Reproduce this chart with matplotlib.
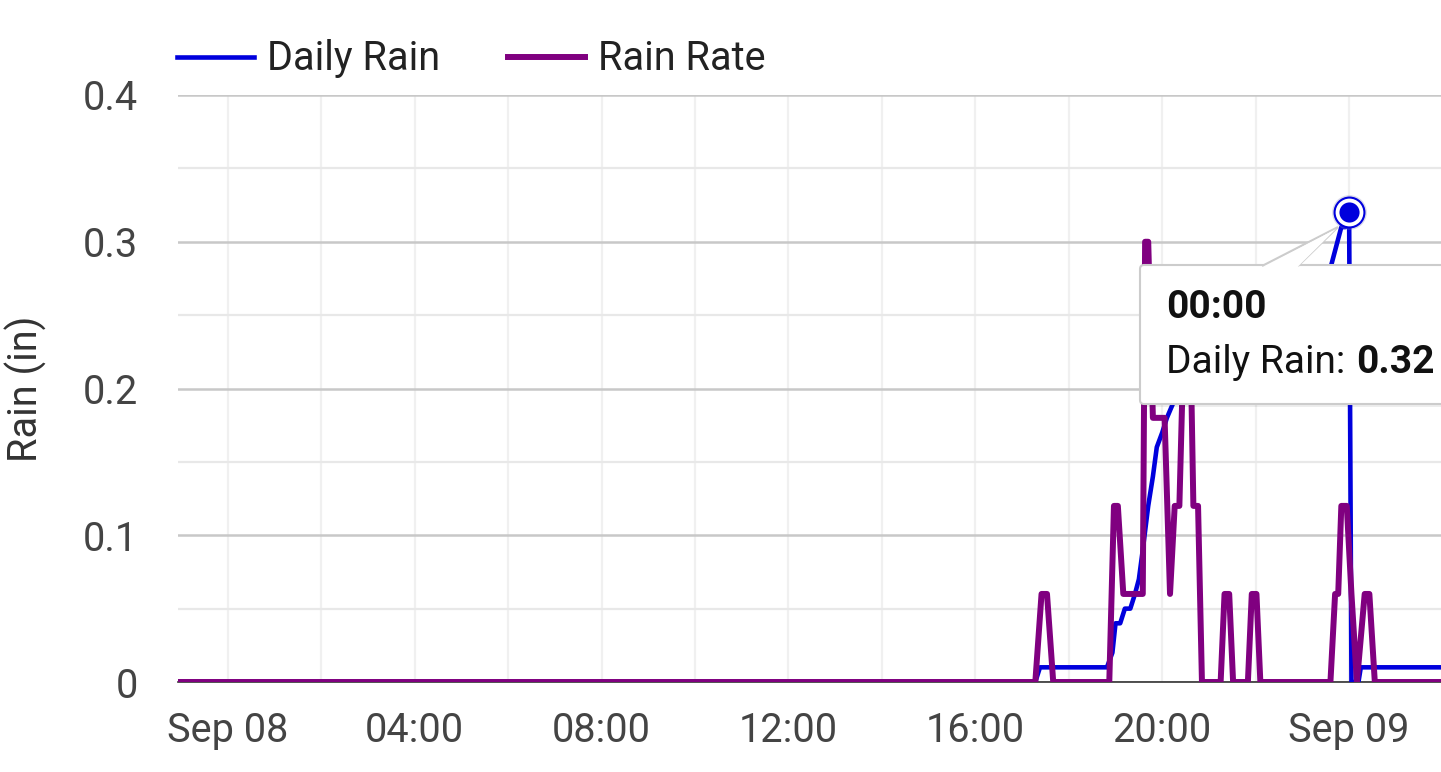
import matplotlib
matplotlib.use('Agg')
import matplotlib.pyplot as plt
import matplotlib.dates as mdates
import matplotlib.transforms as mtransforms
from matplotlib.patches import Polygon, FancyBboxPatch
from matplotlib.ticker import FixedLocator, FixedFormatter, MultipleLocator
import pandas as pd

plt.rcParams['font.family'] = ['Roboto', 'DejaVu Sans']

# daily rain (in)
daily_rain_times = [
    "2024-09-07 22:50", "2024-09-08 17:17", "2024-09-08 17:23", "2024-09-08 18:49",
    "2024-09-08 18:56", "2024-09-08 19:00", "2024-09-08 19:06", "2024-09-08 19:12",
    "2024-09-08 19:19", "2024-09-08 19:25", "2024-09-08 19:30", "2024-09-08 19:35",
    "2024-09-08 19:42", "2024-09-08 19:48", "2024-09-08 19:53", "2024-09-08 20:00",
    "2024-09-08 20:06", "2024-09-08 20:14", "2024-09-08 20:20", "2024-09-08 20:25",
    "2024-09-08 20:30", "2024-09-08 20:36", "2024-09-08 20:42", "2024-09-08 20:50",
    "2024-09-08 21:25", "2024-09-08 21:30", "2024-09-08 23:35", "2024-09-08 23:40",
    "2024-09-08 23:45", "2024-09-08 23:50", "2024-09-08 23:55", "2024-09-09 00:00",
    "2024-09-09 00:03", "2024-09-09 00:12", "2024-09-09 00:15", "2024-09-09 02:10",
]
daily_rain_values = [
    0, 0, 0.01, 0.01,
    0.02, 0.04, 0.04, 0.05,
    0.05, 0.06, 0.07, 0.09,
    0.12, 0.14, 0.16, 0.17,
    0.18, 0.19, 0.20, 0.21,
    0.23, 0.25, 0.26, 0.27,
    0.27, 0.28, 0.28, 0.29,
    0.30, 0.31, 0.31, 0.32,
    0, 0, 0.01, 0.01,
]

# rain rate (in/hr)
rain_rate_times = [
    "2024-09-07 22:50", "2024-09-08 17:17", "2024-09-08 17:25", "2024-09-08 17:32",
    "2024-09-08 17:40", "2024-09-08 18:52", "2024-09-08 18:58", "2024-09-08 19:03",
    "2024-09-08 19:10", "2024-09-08 19:35", "2024-09-08 19:38", "2024-09-08 19:42",
    "2024-09-08 19:48", "2024-09-08 20:03", "2024-09-08 20:10", "2024-09-08 20:16",
    "2024-09-08 20:22", "2024-09-08 20:28", "2024-09-08 20:36", "2024-09-08 20:40",
    "2024-09-08 20:46", "2024-09-08 20:51", "2024-09-08 21:15", "2024-09-08 21:20",
    "2024-09-08 21:26", "2024-09-08 21:31", "2024-09-08 21:50", "2024-09-08 21:55",
    "2024-09-08 22:01", "2024-09-08 22:06", "2024-09-08 23:36", "2024-09-08 23:42",
    "2024-09-08 23:46", "2024-09-08 23:50", "2024-09-08 23:57", "2024-09-09 00:03",
    "2024-09-09 00:10", "2024-09-09 00:20", "2024-09-09 00:26", "2024-09-09 00:33",
    "2024-09-09 02:10",
]
rain_rate_values = [
    0, 0, 0.06, 0.06,
    0, 0, 0.12, 0.12,
    0.06, 0.06, 0.30, 0.30,
    0.18, 0.18, 0.06, 0.12,
    0.12, 0.24, 0.24, 0.12,
    0.12, 0, 0, 0.06,
    0.06, 0, 0, 0.06,
    0.06, 0, 0, 0.06,
    0.06, 0.12, 0.12, 0.06,
    0, 0.06, 0.06, 0,
    0,
]

y_ticks = [0, 0.1, 0.2, 0.3, 0.4]
y_tick_labels = ["0", "0.1", "0.2", "0.3", "0.4"]
x_start, x_end = "2024-09-07 22:56", "2024-09-09 01:58"

tooltip_time = "00:00"
tooltip_series = "Daily Rain"

BLUE = '#0000dd'
PURPLE = '#800080'
W, H = 1441, 772
FS = 28.5


def fmt_time(x, pos=None):
    d = mdates.num2date(x)
    if d.hour == 0 and d.minute == 0:
        return d.strftime('%b %d')
    return d.strftime('%H:%M')


def px(x, y):
    # pixel position (top-left origin) -> display coords
    return (x, H - y)


fig = plt.figure(figsize=(W / 100, H / 100), dpi=100)
ax = fig.add_axes([178 / W, 1 - 682 / H, 1 - 178 / W, (682 - 95) / H])

t_daily = pd.to_datetime(daily_rain_times)
t_rate = pd.to_datetime(rain_rate_times)

ax.plot(t_daily, daily_rain_values, color=BLUE, lw=3.3, label='Daily Rain', zorder=3)
ax.plot(t_rate, rain_rate_values, color=PURPLE, lw=4.3, label='Rain Rate', zorder=4)

ax.set_xlim(pd.Timestamp(x_start), pd.Timestamp(x_end))
ax.set_ylim(0, 0.4)

ax.xaxis.set_major_locator(mdates.HourLocator(byhour=range(0, 24, 4)))
ax.xaxis.set_minor_locator(mdates.HourLocator(byhour=range(2, 24, 4)))
ax.xaxis.set_major_formatter(plt.FuncFormatter(fmt_time))
ax.yaxis.set_major_locator(FixedLocator(y_ticks))
ax.yaxis.set_major_formatter(FixedFormatter(y_tick_labels))
ax.yaxis.set_minor_locator(MultipleLocator(0.05))

ax.set_axisbelow(True)
ax.grid(True, axis='x', which='both', color='#f0f0f0', lw=1.6)
ax.grid(True, axis='y', which='minor', color='#e8e8e8', lw=1.6)
ax.grid(True, axis='y', which='major', color='#c8c8c8', lw=1.8)

for s in ['top', 'right', 'left']:
    ax.spines[s].set_visible(False)
ax.spines['bottom'].set_color('#333333')
ax.spines['bottom'].set_linewidth(1.2)

ax.tick_params(axis='both', which='both', length=0, labelsize=FS, labelcolor='#444444')
ax.tick_params(axis='x', pad=21)
ax.tick_params(axis='y', pad=29)

ax.set_ylabel('Rain (in)', fontsize=FS, color='#333333')
ax.yaxis.set_label_coords(-0.104, 0.5)

leg = fig.legend(loc='center left', bbox_to_anchor=(177 / W, 1 - 59 / H), ncol=2,
                 frameon=False, fontsize=FS, handlelength=1.95, handletextpad=0.32,
                 columnspacing=1.72, borderpad=0, borderaxespad=0)
for txt in leg.get_texts():
    txt.set_color('#222222')

# hovered point marker
i_peak = daily_rain_values.index(max(daily_rain_values))
pk_t, pk_v = t_daily[i_peak], daily_rain_values[i_peak]
ax.plot([pk_t], [pk_v], 'o', ms=25, color='#8888bb', alpha=0.3, mec='none', zorder=5)
ax.plot([pk_t], [pk_v], 'o', ms=21.5, mfc='white', mec=BLUE, mew=1.5, zorder=6)
ax.plot([pk_t], [pk_v], 'o', ms=14.5, color=BLUE, mec='none', zorder=7)

# tooltip
ident = mtransforms.IdentityTransform()
shadow = FancyBboxPatch(px(1142, 407), 330, 140, boxstyle='round,pad=0,rounding_size=4',
                        fc='#000000', ec='none', alpha=0.07, transform=ident, zorder=10)
box = FancyBboxPatch(px(1140, 404), 330, 139, boxstyle='round,pad=0,rounding_size=4',
                     fc='white', ec='#cccccc', lw=1.5, transform=ident, zorder=11)
fig.add_artist(shadow)
fig.add_artist(box)
ptr = Polygon([px(1262, 266), px(1338, 227), px(1298, 266)], closed=False,
              fc='white', ec='#cccccc', lw=1.5, transform=ident, zorder=12)
fig.add_artist(ptr)
ptr_fill = Polygon([px(1263, 267.5), px(1336, 229), px(1297, 267.5)], closed=True,
                   fc='white', ec='none', transform=ident, zorder=12.5)
fig.add_artist(ptr_fill)

fig.text(1166 / W, 1 - 318 / H, tooltip_time, fontsize=FS - 0.5, fontweight='bold',
         color='#111111', va='baseline', ha='left', zorder=13)
lbl = fig.text(1166 / W, 1 - 373 / H, tooltip_series + ':', fontsize=FS - 0.5,
               color='#111111', va='baseline', ha='left', zorder=13)
renderer = fig.canvas.get_renderer()
x_after = lbl.get_window_extent(renderer).x1 + 11
fig.text(x_after / W, 1 - 373 / H, '%.2f' % pk_v, fontsize=FS - 0.5, fontweight='bold',
         color='#111111', va='baseline', ha='left', zorder=13)

fig.savefig('out.png', dpi=100, facecolor='white')
